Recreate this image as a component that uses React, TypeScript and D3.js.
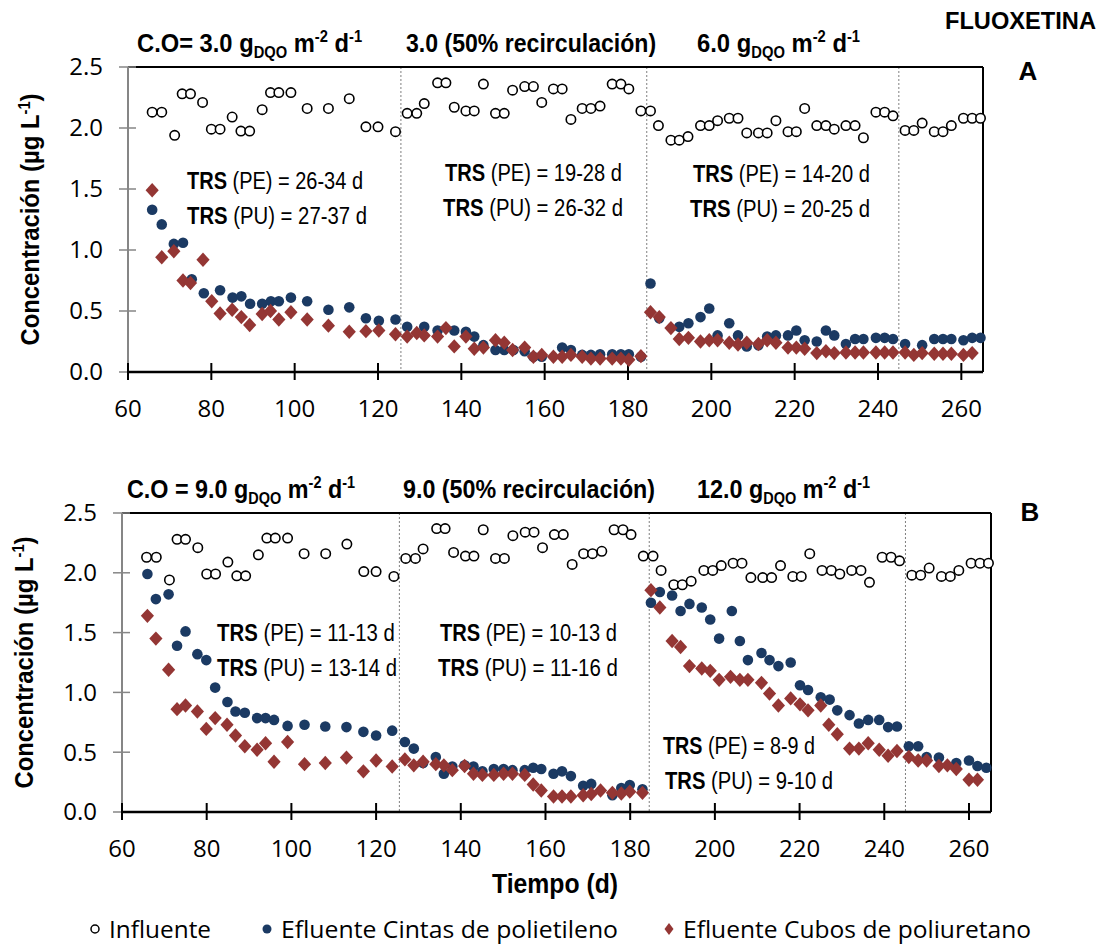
import React, { useLayoutEffect, useRef, useState } from "react";
import * as d3 from "d3";

// ---------- DATA ----------
const xTicks = [60, 80, 100, 120, 140, 160, 180, 200, 220, 240, 260];
const yTicks = [0, 0.5, 1.0, 1.5, 2.0, 2.5];
const phaseBoundaries = [125.5, 184.5, 245];

// Influente (same in both panels) [day, µg/L]
const influente: [number, number][] = [
  [65.8, 2.13], [68.1, 2.13], [71.2, 1.94], [73, 2.28], [75, 2.28], [77.9, 2.21], [80, 1.99], [82.1, 1.99],
  [85, 2.09], [87.1, 1.975], [89.2, 1.975], [92.2, 2.15], [94.2, 2.29], [96.2, 2.29], [99.1, 2.29], [103, 2.16],
  [108.1, 2.16], [113.1, 2.24], [117.1, 2.01], [120, 2.01], [124.2, 1.97], [127, 2.12], [129.3, 2.12], [131.1, 2.2],
  [134.3, 2.37], [136.3, 2.37], [138.3, 2.17], [141.1, 2.14], [143.1, 2.14], [145.3, 2.36], [148.2, 2.12], [150.3, 2.12],
  [152.3, 2.31], [155.2, 2.34], [157.3, 2.34], [159.3, 2.21], [162.1, 2.32], [164.2, 2.32], [166.3, 2.07], [169, 2.16],
  [171.1, 2.16], [173.3, 2.18], [176.2, 2.36], [178.3, 2.36], [180.2, 2.32], [183.1, 2.14], [185.4, 2.14], [187.3, 2.02],
  [190.3, 1.9], [192.3, 1.9], [194.4, 1.93], [197.4, 2.02], [199.5, 2.02], [201.5, 2.06], [204.3, 2.08], [206.4, 2.08],
  [208.5, 1.96], [211.3, 1.96], [213.4, 1.96], [215.5, 2.06], [218.4, 1.97], [220.4, 1.97], [222.4, 2.16], [225.3, 2.02],
  [227.5, 2.02], [229.5, 1.99], [232.3, 2.02], [234.5, 2.02], [236.5, 1.92], [239.5, 2.13], [241.6, 2.13], [243.6, 2.1],
  [246.5, 1.98], [248.6, 1.98], [250.6, 2.04], [253.5, 1.97], [255.6, 1.97], [257.6, 2.02], [260.5, 2.08], [262.6, 2.08],
  [264.6, 2.08],
];

// Panel A: Efluente Cintas de polietileno
const cintasA: [number, number][] = [
  [65.8, 1.33], [68.1, 1.21], [71, 1.05], [73.2, 1.06], [75.3, 0.76], [78.2, 0.645], [82.1, 0.67], [85.1, 0.61],
  [87.2, 0.62], [89.3, 0.56], [92.2, 0.56], [94.3, 0.58], [96.2, 0.58], [99.1, 0.61], [103, 0.58], [108.1, 0.51],
  [113.1, 0.53], [117.1, 0.44], [120.2, 0.42], [124.2, 0.43], [127, 0.37], [131.1, 0.37], [134.3, 0.34], [138.3, 0.34],
  [141.1, 0.33], [143.1, 0.29], [145.3, 0.22], [148.2, 0.18], [150.3, 0.18], [152.5, 0.18], [155.2, 0.17], [157.3, 0.125],
  [159.3, 0.125], [164.2, 0.2], [166.3, 0.18], [169, 0.14], [171.1, 0.14], [173.3, 0.145], [176.2, 0.145], [178.3, 0.145],
  [180.2, 0.145], [183.1, 0.125], [185.4, 0.725], [187.5, 0.44], [192.3, 0.37], [194.5, 0.4], [197.4, 0.45], [199.5, 0.52],
  [201.5, 0.3], [204.3, 0.4], [206.4, 0.3], [208.5, 0.21], [211.3, 0.22], [213.4, 0.29], [215.5, 0.3], [218.4, 0.3],
  [220.4, 0.34], [222.4, 0.26], [225.3, 0.25], [227.5, 0.34], [229.5, 0.3], [232.3, 0.23], [234.5, 0.27], [236.5, 0.27],
  [239.5, 0.28], [241.6, 0.28], [243.6, 0.27], [246.5, 0.23], [250.6, 0.22], [253.5, 0.27], [255.6, 0.27], [257.6, 0.27],
  [260.5, 0.26], [262.6, 0.28], [264.6, 0.28],
];

// Panel A: Efluente Cubos de poliuretano
const cubosA: [number, number][] = [
  [65.8, 1.49], [68.1, 0.94], [71, 0.99], [73.2, 0.75], [75, 0.73], [78, 0.92], [80.1, 0.58], [82.1, 0.48],
  [85, 0.51], [87.2, 0.45], [89.2, 0.385], [92.2, 0.475], [94.2, 0.5], [96.2, 0.43], [99.1, 0.49], [103, 0.43],
  [108.1, 0.38], [113.1, 0.33], [117.1, 0.335], [120.2, 0.34], [124.2, 0.31], [127, 0.29], [129.3, 0.32], [131.1, 0.3],
  [134.3, 0.29], [136.3, 0.36], [138.3, 0.21], [141.1, 0.29], [143.1, 0.19], [145.3, 0.2], [148.2, 0.26], [150.3, 0.24],
  [152.3, 0.18], [155.2, 0.2], [157.3, 0.125], [159.3, 0.14], [162.1, 0.125], [164.2, 0.125], [166.3, 0.14], [169, 0.125],
  [171.1, 0.11], [173.3, 0.11], [176.2, 0.11], [178.3, 0.11], [180.2, 0.1], [183.1, 0.13], [185.4, 0.49], [187.5, 0.45],
  [190.3, 0.36], [192.3, 0.27], [194.5, 0.28], [197.4, 0.25], [199.5, 0.26], [201.5, 0.26], [204.3, 0.24], [206.4, 0.225],
  [208.5, 0.24], [211.3, 0.23], [213.4, 0.26], [215.5, 0.24], [218.4, 0.2], [220.4, 0.2], [222.4, 0.19], [225.3, 0.155],
  [227.5, 0.17], [229.5, 0.155], [232.3, 0.16], [234.5, 0.16], [236.5, 0.16], [239.5, 0.16], [241.6, 0.16], [243.6, 0.16],
  [246.5, 0.16], [248.6, 0.14], [250.6, 0.155], [253.5, 0.15], [255.6, 0.15], [257.6, 0.15], [260.5, 0.14], [262.6, 0.155],
];

// Panel B: Efluente Cintas de polietileno
const cintasB: [number, number][] = [
  [66, 1.99], [68, 1.78], [71, 1.82], [73, 1.39], [75, 1.51], [77.8, 1.32], [79.9, 1.27], [82, 1.04],
  [84.9, 0.92], [86.8, 0.84], [89, 0.83], [91.9, 0.785], [93.9, 0.785], [95.9, 0.77], [99.1, 0.72], [103.1, 0.73],
  [108, 0.715], [113, 0.71], [117, 0.67], [120, 0.64], [123.8, 0.68], [126.8, 0.585], [128.9, 0.53], [131.1, 0.41],
  [134.1, 0.46], [136, 0.32], [138, 0.38], [140.9, 0.39], [143, 0.38], [145.1, 0.34], [147.8, 0.36], [150.1, 0.36],
  [152.2, 0.35], [155.1, 0.35], [157.1, 0.37], [159, 0.36], [161.9, 0.32], [163.9, 0.34], [166, 0.3], [168.9, 0.22],
  [170.8, 0.235], [175.8, 0.14], [177.9, 0.2], [179.9, 0.225], [182.9, 0.19], [184.9, 1.75], [187, 1.84], [189.9, 1.81],
  [191.9, 1.68], [194, 1.74], [196.9, 1.71], [198.9, 1.61], [201, 1.45], [204, 1.68], [205.9, 1.43], [207.8, 1.27],
  [211, 1.33], [212.9, 1.27], [215, 1.22], [217.9, 1.25], [220.1, 1.06], [222, 1.02], [225, 0.96], [227.1, 0.94],
  [228.9, 0.85], [231.8, 0.81], [234, 0.74], [236.2, 0.77], [238.8, 0.77], [240.9, 0.71], [243, 0.715], [245.8, 0.55],
  [248, 0.55], [250, 0.46], [252.9, 0.455], [257, 0.41], [260, 0.43], [262, 0.385], [264.1, 0.37],
];

// Panel B: Efluente Cubos de poliuretano
const cubosB: [number, number][] = [
  [66, 1.64], [68, 1.45], [71, 1.19], [73, 0.86], [75, 0.89], [77.8, 0.84], [79.9, 0.695], [82, 0.785],
  [84.8, 0.73], [86.8, 0.64], [89, 0.55], [91.9, 0.52], [93.9, 0.575], [95.9, 0.42], [99.1, 0.585], [103.1, 0.4],
  [108, 0.41], [113, 0.455], [117, 0.34], [120, 0.43], [123.8, 0.38], [126.8, 0.44], [128.9, 0.39], [131.1, 0.42],
  [134.1, 0.4], [136, 0.39], [138, 0.35], [140.9, 0.385], [143, 0.32], [145.1, 0.31], [147.8, 0.31], [150.1, 0.32],
  [152.2, 0.32], [155.1, 0.31], [157.1, 0.23], [159, 0.18], [161.9, 0.13], [163.9, 0.13], [166, 0.13], [168.9, 0.14],
  [170.8, 0.15], [173, 0.18], [175.8, 0.16], [177.9, 0.155], [179.9, 0.17], [182.9, 0.16], [184.9, 1.855], [187, 1.71],
  [189.9, 1.43], [191.9, 1.38], [194, 1.22], [196.9, 1.2], [198.9, 1.18], [201, 1.105], [203.7, 1.13], [205.9, 1.105],
  [207.8, 1.105], [211, 1.08], [212.9, 0.99], [215, 0.89], [217.9, 0.95], [220.1, 0.9], [222, 0.85], [225, 0.89],
  [226.9, 0.73], [228.9, 0.65], [231.8, 0.53], [234, 0.53], [236.2, 0.575], [238.8, 0.52], [240.9, 0.47], [243, 0.51],
  [245.8, 0.46], [248, 0.43], [250, 0.43], [252.9, 0.385], [254.9, 0.39], [257, 0.36], [260, 0.27], [262, 0.27],
];

const phaseLabelsA = ["C.O= 3.0", "3.0 (50% recirculación)", "6.0"];
const phaseLabelsB = ["C.O = 9.0", "9.0 (50% recirculación)", "12.0"];
const phaseHasUnit = [true, false, true];
const trsA = [["26-34", "27-37"], ["19-28", "26-32"], ["14-20", "20-25"]];
const trsB = [["11-13", "13-14"], ["10-13", "11-16"], ["8-9", "9-10"]];
const legendLabels = ["Influente", "Efluente Cintas de polietileno", "Efluente Cubos de poliuretano"];

// ---------- STYLE ----------
const BLUE = "#1B3A63";
const RED = "#943634";
const NUM_FONT = "'Open Sans', sans-serif";
const SANS = "'Liberation Sans', Arial, sans-serif";

function diamondPath(hw: number, hh: number) {
  const p = d3.path();
  p.moveTo(0, -hh);
  p.lineTo(hw, 0);
  p.lineTo(0, hh);
  p.lineTo(-hw, 0);
  p.closePath();
  return p.toString();
}

// Text squeezed horizontally to a given width (the original uses a condensed face)
function FitText(props: {
  x: number;
  y: number;
  width: number;
  anchor?: "start" | "middle" | "end";
  rotate?: number;
  fontSize: number;
  fontWeight?: string;
  fontFamily?: string;
  children: React.ReactNode;
}) {
  const ref = useRef<SVGTextElement>(null);
  const [s, setS] = useState(0.85);
  useLayoutEffect(() => {
    if (ref.current) {
      const w = ref.current.getBBox().width;
      if (w > 0) setS(props.width / w);
    }
  }, [props.width]);
  const rot = props.rotate ? ` rotate(${props.rotate})` : "";
  return (
    <g transform={`translate(${props.x},${props.y})${rot} scale(${s},1)`}>
      <text
        ref={ref}
        x={0}
        y={0}
        textAnchor={props.anchor || "start"}
        fontFamily={props.fontFamily || SANS}
        fontWeight={props.fontWeight || "normal"}
        fontSize={props.fontSize}
        fill="#000"
      >
        {props.children}
      </text>
    </g>
  );
}

type Box = { left: number; right: number; top: number; bottom: number };

function Unit({ fs }: { fs: number }) {
  const s = fs * 0.62;
  return (
    <>
      <tspan> g</tspan>
      <tspan dy={6} fontSize={s}>DQO</tspan>
      <tspan dy={-6}> m</tspan>
      <tspan dy={-10} fontSize={s}>-2</tspan>
      <tspan dy={10}> d</tspan>
      <tspan dy={-10} fontSize={s}>-1</tspan>
    </>
  );
}

function Panel(props: {
  box: Box;
  cintas: [number, number][];
  cubos: [number, number][];
  labels: string[];
  labelX: number[];
  labelW: number[];
  labelY: number;
  trs: string[][];
  trsPos: number[][]; // xPE, wPE, xPU, wPU, baseline PE
  letter: string;
  letterPos: [number, number];
  yLabelX: number;
}) {
  const { box } = props;
  const x = d3.scaleLinear().domain([60, 265.2]).range([box.left, box.right]);
  const y = d3.scaleLinear().domain([0, 2.5]).range([box.bottom, box.top]);
  const fmt = d3.format(".1f");
  const diamond = diamondPath(6.6, 7.2);
  const headFs = 26;
  return (
    <g>
      {phaseBoundaries.map((d, i) => (
        <line key={i} x1={x(d)} x2={x(d)} y1={box.top} y2={box.bottom} stroke="#7f7f7f" strokeWidth={1} strokeDasharray="2,2" />
      ))}
      <line x1={box.left} x2={box.right} y1={box.top} y2={box.top} stroke="#000" strokeWidth={2} />
      <line x1={box.right} x2={box.right} y1={box.top} y2={box.bottom} stroke="#000" strokeWidth={2} />
      <line x1={box.left} x2={box.left} y1={box.top} y2={box.bottom} stroke="#868686" strokeWidth={2} />
      {yTicks.map((t) => (
        <g key={t}>
          <line x1={box.left - 9} x2={box.left + 8} y1={y(t)} y2={y(t)} stroke="#868686" strokeWidth={1.5} />
          <text x={box.left - 25} y={y(t)} dy="0.35em" textAnchor="end" fontFamily={NUM_FONT} fontSize={24} fill="#000">
            {fmt(t)}
          </text>
        </g>
      ))}
      <line x1={box.left} x2={box.right} y1={box.bottom} y2={box.bottom} stroke="#000" strokeWidth={2.5} />
      {xTicks.map((t) => (
        <g key={t}>
          <line x1={x(t)} x2={x(t)} y1={box.bottom - 9} y2={box.bottom + 8} stroke="#000" strokeWidth={2} />
          <text x={x(t)} y={box.bottom + 45} textAnchor="middle" fontFamily={NUM_FONT} fontSize={24} fill="#000">
            {t}
          </text>
        </g>
      ))}
      <FitText x={props.yLabelX} y={(box.top + box.bottom) / 2} width={252} anchor="middle" rotate={-90} fontSize={26} fontWeight="bold">
        Concentración (µg L<tspan dy={-9} fontSize={16}>-1</tspan>
        <tspan dy={9}>)</tspan>
      </FitText>
      {influente.map(([d, v], i) => (
        <circle key={"i" + i} cx={x(d)} cy={y(v)} r={4.7} fill="#fff" stroke="#000" strokeWidth={1.6} />
      ))}
      {props.cintas.map(([d, v], i) => (
        <circle key={"c" + i} cx={x(d)} cy={y(v)} r={5.3} fill={BLUE} />
      ))}
      {props.cubos.map(([d, v], i) => (
        <path key={"u" + i} d={diamond} transform={`translate(${x(d)},${y(v)})`} fill={RED} />
      ))}
      {props.labels.map((l, i) => (
        <FitText key={l} x={props.labelX[i]} y={props.labelY} width={props.labelW[i]} fontSize={headFs} fontWeight="bold">
          {l}
          {phaseHasUnit[i] ? <Unit fs={headFs} /> : null}
        </FitText>
      ))}
      {props.trs.map((pair, i) => {
        const p = props.trsPos[i];
        return (
          <g key={"t" + i}>
            <FitText x={p[0]} y={p[4]} width={p[1]} fontSize={24}>
              <tspan fontWeight="bold">TRS</tspan> (PE) = {pair[0]} d
            </FitText>
            <FitText x={p[2]} y={p[4] + 35} width={p[3]} fontSize={24}>
              <tspan fontWeight="bold">TRS</tspan> (PU) = {pair[1]} d
            </FitText>
          </g>
        );
      })}
      <text x={props.letterPos[0]} y={props.letterPos[1]} textAnchor="middle" fontFamily={SANS} fontWeight="bold" fontSize={26} fill="#000">
        {props.letter}
      </text>
    </g>
  );
}

export default function App() {
  const diamond = diamondPath(4.5, 6);
  const legendX = [95, 267, 669];
  const legendW = [102, 337, 348];
  const legendY = 929;
  return (
    <svg width={1102} height={947} style={{ position: "absolute", left: 0, top: 0, background: "#fff" }}>
      <rect width={1102} height={947} fill="#fff" />
      <FitText x={945} y={29} width={151} fontSize={24} fontWeight="bold">
        FLUOXETINA
      </FitText>
      <Panel
        box={{ left: 128, right: 983, top: 67, bottom: 372 }}
        cintas={cintasA}
        cubos={cubosA}
        labels={phaseLabelsA}
        labelX={[137, 406, 697]}
        labelW={[225, 250, 163]}
        labelY={52}
        trs={trsA}
        trsPos={[[187, 176, 187, 180, 189], [445, 177, 443, 180, 181], [693, 177, 690, 180, 182]]}
        letter="A"
        letterPos={[1028, 80]}
        yLabelX={39}
      />
      <Panel
        box={{ left: 122, right: 991, top: 513, bottom: 812 }}
        cintas={cintasB}
        cubos={cubosB}
        labels={phaseLabelsB}
        labelX={[127, 403, 697]}
        labelW={[228, 252, 173]}
        labelY={498}
        trs={trsB}
        trsPos={[[217, 178, 217, 180, 641], [440, 177, 438, 180, 641], [663, 152, 665, 168, 754]]}
        letter="B"
        letterPos={[1030, 521]}
        yLabelX={33}
      />
      <FitText x={555} y={893} width={126} anchor="middle" fontSize={27} fontWeight="bold">
        Tiempo (d)
      </FitText>
      <circle cx={legendX[0]} cy={legendY} r={4} fill="#fff" stroke="#000" strokeWidth={1.5} />
      <circle cx={legendX[1]} cy={legendY} r={4.5} fill={BLUE} />
      <path d={diamond} transform={`translate(${legendX[2]},${legendY})`} fill={RED} />
      {legendLabels.map((l, i) => (
        <text
          key={l}
          x={legendX[i] + 14}
          y={legendY + 9}
          fontFamily={NUM_FONT}
          fontSize={24}
          fill="#000"
          textLength={legendW[i]}
          lengthAdjust="spacingAndGlyphs"
        >
          {l}
        </text>
      ))}
    </svg>
  );
}
